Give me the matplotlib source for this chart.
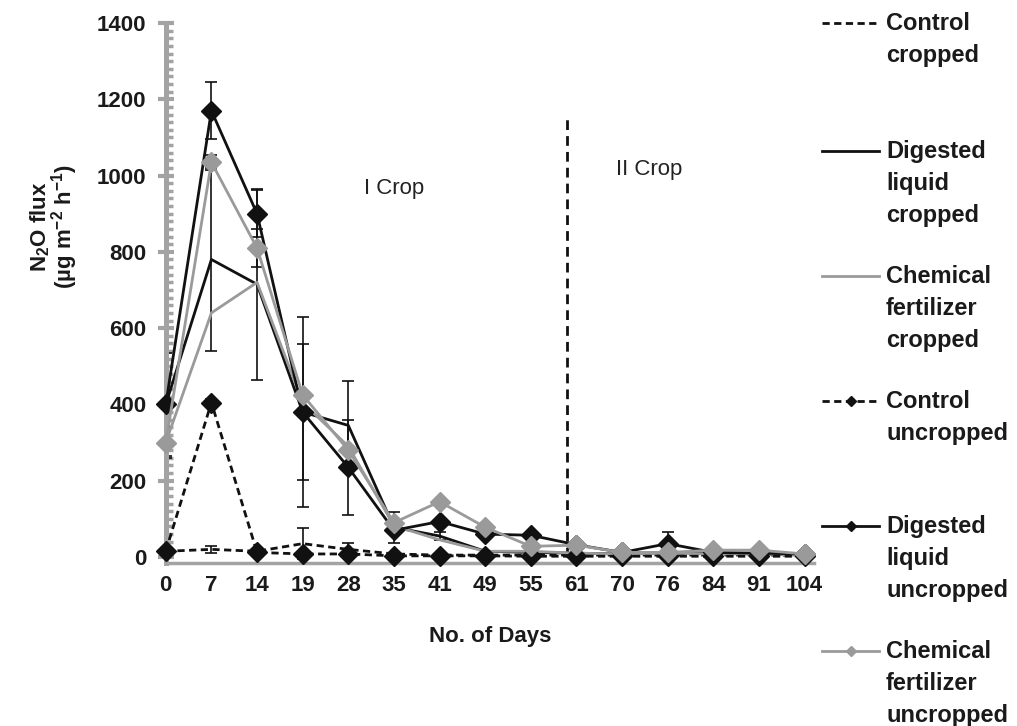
import numpy as np
import matplotlib
matplotlib.use("Agg")
from matplotlib import pyplot as plt
from matplotlib.lines import Line2D
from matplotlib.ticker import MultipleLocator

plt.rcParams['font.family'] = ['Liberation Sans', 'DejaVu Sans']
plt.rcParams['mathtext.default'] = 'regular'

# x categories (No. of Days)
days = ["0", "7", "14", "19", "28", "35", "41", "49", "55", "61", "70", "76", "84", "91", "104"]

# N2O flux values
control_cropped = [15, 20, 15, 35, 20, 8, 5, 5, 5, 5, 5, 5, 5, 5, 5]
digested_cropped = [400, 780, 715, 380, 345, 78, 55, 15, 12, 10, 8, 12, 10, 8, 5]
chemical_cropped = [300, 640, 720, 405, 290, 82, 45, 15, 15, 10, 8, 10, 8, 8, 5]
control_uncropped = [15, 405, 12, 8, 8, 3, 3, 3, 2, 2, 2, 2, 2, 2, 2]
digested_uncropped = [400, 1170, 900, 380, 235, 70, 93, 60, 57, 32, 12, 35, 12, 10, 8]
chemical_uncropped = [300, 1035, 810, 425, 280, 90, 145, 78, 28, 31, 12, 12, 18, 18, 8]

# error bars (nan = no bar)
nan = np.nan
err_control_cropped = [nan, 10, nan, 40, 16, nan, nan, nan, nan, nan, nan, nan, nan, nan, nan]
err_digested_cropped = [nan, 240, 250, 178, 116, 40, 10, nan, nan, nan, nan, nan, nan, nan, nan]
err_chemical_cropped = [nan, nan, nan, nan, nan, nan, nan, nan, nan, nan, nan, nan, nan, nan, nan]
err_control_uncropped = [nan, 8, nan, nan, nan, nan, nan, nan, nan, nan, nan, nan, nan, nan, nan]
err_digested_uncropped = [135, 75, 62, 250, 125, nan, nan, nan, nan, nan, nan, 30, nan, nan, nan]
err_chemical_uncropped = [40, 20, 50, nan, nan, nan, nan, nan, nan, nan, nan, nan, nan, nan, nan]

crop_change = 8.8  # position of the dashed divider (between 55 and 61)
crop_change_top = 1150

labels = ["Control\ncropped", "Digested\nliquid\ncropped", "Chemical\nfertilizer\ncropped",
          "Control\nuncropped", "Digested\nliquid\nuncropped", "Chemical\nfertilizer\nuncropped"]

BLACK = "#111111"
GRAY = "#9a9a9a"
AXGRAY = "#a3a3a3"

series = [
    (control_cropped, err_control_cropped, BLACK, "--", None),
    (digested_cropped, err_digested_cropped, BLACK, "-", None),
    (chemical_cropped, err_chemical_cropped, GRAY, "-", None),
    (control_uncropped, err_control_uncropped, BLACK, "--", "D"),
    (digested_uncropped, err_digested_uncropped, BLACK, "-", "D"),
    (chemical_uncropped, err_chemical_uncropped, GRAY, "-", "D"),
]

fig = plt.figure(figsize=(10.17, 7.26), dpi=100)
ax = fig.add_axes([0.163, 0.2249, 0.6372, 0.7434])

x = np.arange(len(days))

# error bars first (behind lines)
for vals, err, color, ls, mk in series:
    v = np.array(vals, dtype=float)
    e = np.array(err, dtype=float)
    m = ~np.isnan(e)
    if m.any():
        ax.errorbar(x[m], v[m], yerr=e[m], fmt="none", ecolor=BLACK,
                    elinewidth=1.2, capsize=4.5, capthick=1.2, zorder=2)

z = 3
for vals, err, color, ls, mk in series:
    ax.plot(x, vals, color=color, linestyle=ls, linewidth=2.0,
            dashes=(2.6, 1.6) if ls == "--" else (None, None),
            marker=mk, markersize=10, markerfacecolor=color,
            markeredgecolor=color, clip_on=False, zorder=z)
    z += 1

ax.plot([crop_change, crop_change], [0, crop_change_top], color=BLACK,
        linestyle="--", dashes=(3.5, 2.2), linewidth=2.0, zorder=2)

ax.text(5.0, 967, "I Crop", fontsize=16, ha="center", va="center", color="#222222")
ax.text(10.6, 1016, "II Crop", fontsize=16, ha="center", va="center", color="#222222")

ax.set_xlim(0, 14.2)
ax.set_ylim(-15, 1400)
ax.set_xticks(x)
ax.set_xticklabels(days)
ax.yaxis.set_major_locator(MultipleLocator(200))
ax.yaxis.set_minor_locator(MultipleLocator(20))

for s in ("top", "right"):
    ax.spines[s].set_visible(False)
ax.spines["left"].set_color(AXGRAY)
ax.spines["left"].set_linewidth(3.6)
ax.spines["bottom"].set_color(AXGRAY)
ax.spines["bottom"].set_linewidth(2.5)
ax.spines["left"].set_bounds(-15, 1400)

ax.tick_params(axis="y", which="major", direction="inout", length=12, width=3,
               color=AXGRAY, pad=8, labelsize=16)
ax.tick_params(axis="y", which="minor", direction="in", length=5, width=2.5,
               color=AXGRAY)
ax.tick_params(axis="x", which="major", length=0, pad=9, labelsize=16)
for lab in ax.get_xticklabels() + ax.get_yticklabels():
    lab.set_fontweight("bold")
    lab.set_color("#1a1a1a")

ax.set_xlabel("No. of Days", fontsize=16, fontweight="bold", color="#1a1a1a")
ax.xaxis.set_label_coords(0.5, -0.118)
ax.set_ylabel("N$_2$O flux\n(µg m$^{-2}$ h$^{-1}$)", fontsize=16, fontweight="bold",
              color="#1a1a1a", linespacing=0.9)
ax.yaxis.set_label_coords(-0.132, 0.622)

# legend drawn as fixed slots on the right (first line aligned with handle)
slot_y = [22, 150, 275, 400, 525, 650]
W, H = 1017.0, 726.0
for (vals, err, color, ls, mk), lab, yp in zip(series, labels, slot_y):
    yf = 1 - (yp + 1) / H
    fig.add_artist(Line2D([822 / W, 879 / W], [yf, yf], transform=fig.transFigure,
                          color=color, linestyle=ls, linewidth=2.0,
                          dashes=(2.6, 1.6) if ls == "--" else (None, None)))
    if mk:
        fig.add_artist(Line2D([850.5 / W], [yf], transform=fig.transFigure,
                              marker=mk, markersize=5.5, color=color, linestyle="none"))
    fig.text(886 / W, 1 - (yp - 10) / H, lab, fontsize=17, fontweight="bold",
             va="top", ha="left", color="#1a1a1a", linespacing=1.5)

fig.savefig("out.png", dpi=100)
